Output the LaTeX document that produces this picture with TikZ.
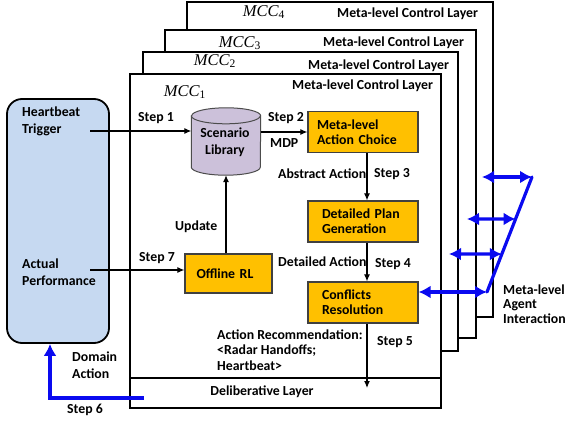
\documentclass[tikz,border=0pt]{standalone}
\usepackage{fontspec}
\setmainfont{Carlito}
\newfontfamily\tnr{Liberation Serif}
\usetikzlibrary{arrows.meta,calc}
\definecolor{orangebox}{HTML}{FFC000}
\definecolor{envblue}{HTML}{C6D9F1}
\definecolor{cylpurple}{HTML}{CCC1DA}
\definecolor{linkblue}{HTML}{0A0AF0}
\tikzset{
  lbl/.style={font=\fontsize{13.8}{17}\selectfont\bfseries, inner sep=0pt, anchor=west, align=left},
  frame/.style={draw=black, line width=1.8pt, fill=white},
  obox/.style={draw=black!75, line width=1.2pt, fill=orangebox, minimum width=110pt, minimum height=41pt,
    font=\fontsize{13.8}{15}\selectfont\bfseries, align=left, text width=92pt, inner sep=0pt},
  arr/.style={-{Latex[length=7pt,width=6pt]}, line width=1.1pt},
  barr/.style={{Latex[length=12pt,width=13pt]}-{Latex[length=12pt,width=13pt]}, line width=3.2pt, draw=linkblue},
  bline/.style={line width=3.2pt, draw=linkblue},
  mcc/.style={font=\tnr\itshape\fontsize{16.5}{18}\selectfont, inner sep=0pt},
}
\begin{document}
\begin{tikzpicture}[x=1pt,y=-1pt]
\useasboundingbox (0,0) rectangle (566,423);
% stacked frames
\path[frame] (187,2) rectangle (493,317);
\node[mcc] (mcc4) at (264,12) {MCC\textsubscript{\upshape 4}};
\node[lbl] (mcl4) at (337,14) {Meta-level Control Layer};
\path[frame] (165,30) rectangle (476,338);
\node[mcc] (mcc3) at (240,43) {MCC\textsubscript{\upshape 3}};
\node[lbl] (mcl3) at (323,43) {Meta-level Control Layer};
\path[frame] (143,52) rectangle (458,351);
\node[mcc] (mcc2) at (215,61) {MCC\textsubscript{\upshape 2}};
\node[lbl] (mcl2) at (308,66) {Meta-level Control Layer};
\path[frame] (130,74) rectangle (441,408);
\node[mcc] (mcc1) at (185,92) {MCC\textsubscript{\upshape 1}};
\node[lbl] (mcl1) at (292,86) {Meta-level Control Layer};
\draw[line width=1.8pt] (130,378) -- (441,378);
\node[lbl, anchor=center] (delib) at (262,392) {Deliberative Layer};

% environment box
\node[draw=black, line width=1.8pt, fill=envblue, rounded corners=15pt,
      minimum width=102pt, minimum height=244pt] (env) at (58,221) {};
\node[lbl] (hbt) at (22,121.5) {Heartbeat\\Trigger};
\node[lbl] (apf) at (22,272) {Actual\\Performance};

% scenario library (cylinder)
\node[minimum width=69pt, minimum height=67pt, inner sep=0pt] (lib) at (226,141.5) {};
\filldraw[fill=cylpurple, draw=black!70, line width=1pt]
  ([yshift=-8pt]lib.north west) -- ([yshift=8pt]lib.south west)
  arc[start angle=180, end angle=360, x radius=34.5pt, y radius=8pt]
  -- ([yshift=-8pt]lib.north east)
  arc[start angle=0, end angle=180, x radius=34.5pt, y radius=8pt] -- cycle;
\draw[draw=black!70, line width=1pt] ([yshift=-8pt]lib.north west)
  arc[start angle=180, end angle=360, x radius=34.5pt, y radius=8pt];
\node[lbl, anchor=center, align=center] (libt) at (225,142) {Scenario\\Library};

% orange boxes
\node[obox] (mac) at (363,132) {Meta-level\\Action Choice};
\node[obox, text width=82pt] (dpg) at (363,221.5) {Detailed Plan\\Generation};
\node[obox, text width=82pt] (cr) at (363,302.5) {Conflicts\\Resolution};
\node[obox, minimum width=87pt, minimum height=39pt, text width=64pt] (orl) at (228.5,273.5) {Offline RL};

% black connectors
\coordinate (hb) at (90,131);
\coordinate (ap) at (90,270);
\coordinate (col) at (367,388);
\draw[arr] (hb) -- (hb -| lib.west);
\draw[arr] (lib.east |- mac.west) -- (mac.west);
\draw[arr] (mac.south -| col) -- (dpg.north -| col);
\draw[arr] (dpg.south -| col) -- (cr.north -| col);
\draw[arr] (cr.south -| col) -- (col);
\draw[arr] (ap) -- (ap -| orl.west);
\draw[arr] (lib.south |- orl.north) -- (lib.south);

% labels
\node[lbl] (st1) at (138,118) {Step 1};
\node[lbl] (st7) at (139,258) {Step 7};
\node[lbl] (upd) at (175,227) {Update};
\node[lbl] (st2) at (268,118) {Step 2};
\node[lbl] (mdp) at (270,143) {MDP};
\node[lbl] (abs) at (278,174) {Abstract Action};
\node[lbl] (st3) at (374,174) {Step 3};
\node[lbl] (det) at (278,262) {Detailed Action};
\node[lbl] (st4) at (375,264) {Step 4};
\node[lbl] (st5) at (377,342) {Step 5};
\node[lbl, font=\fontsize{13.8}{15.5}\selectfont\bfseries] (rec) at (217,350)
  {Action Recommendation:\\<Radar Handoffs;\\Heartbeat>};
\node[lbl] (dom) at (72,365) {Domain\\Action};
\node[lbl] (st6) at (67,410) {Step 6};
\node[lbl, font=\fontsize{13.8}{14.5}\selectfont\bfseries] (mai) at (503,304) {Meta-level\\Agent\\Interaction};

% blue connectors
\coordinate (s6) at (144,398);
\draw[bline, -{Latex[length=12pt,width=13pt]}] (s6) -| ([xshift=-8pt]env.south);
\coordinate (d0) at (487,292);
\coordinate (d1) at (532,177);
\coordinate (t3) at ($(d0)!0.635!(d1)$);
\coordinate (t2) at ($(d0)!0.33!(d1)$);
\coordinate (m4) at (482,177);
\coordinate (m3) at (467,219);
\coordinate (m2) at (449,254);
\draw[bline, line cap=round] (d0) -- (d1);
\draw[barr] (m4) -- (d1);
\draw[barr] (m3) -- (t3);
\draw[barr] (m2) -- (t2);
\draw[barr] (cr.east |- d0) -- (d0);
\end{tikzpicture}
\end{document}
